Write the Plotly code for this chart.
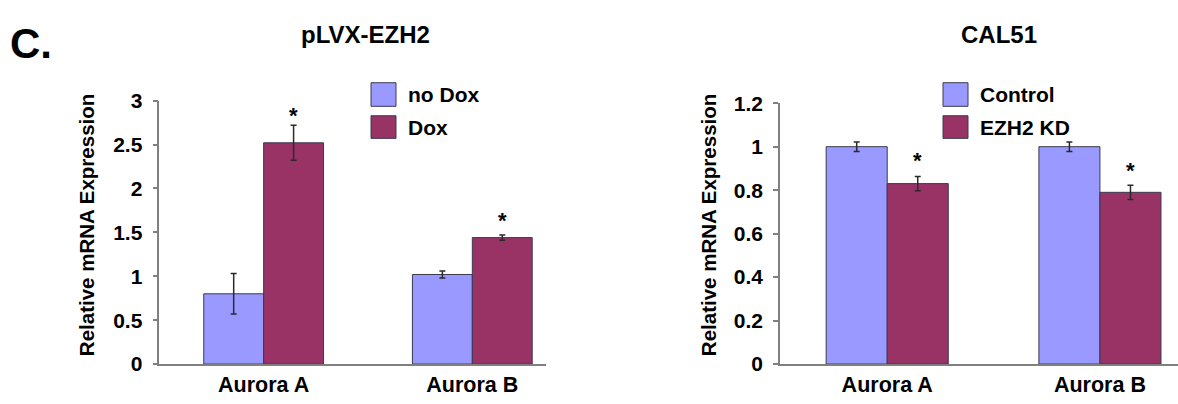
import plotly.graph_objects as go

# ---------------- data ----------------
categories = ["Aurora A", "Aurora B"]

left_title = "pLVX-EZH2"
left_names = ["no Dox", "Dox"]
left_nodox = [0.80, 1.02]
left_nodox_err = [0.23, 0.04]
left_dox = [2.52, 1.44]
left_dox_err = [0.20, 0.03]
left_star_y = [2.83, 1.63]
left_yticks = [0, 0.5, 1, 1.5, 2, 2.5, 3]

right_title = "CAL51"
right_names = ["Control", "EZH2 KD"]
right_ctrl = [1.00, 1.00]
right_ctrl_err = [0.022, 0.022]
right_kd = [0.83, 0.79]
right_kd_err = [0.033, 0.033]
right_star_y = [0.935, 0.89]
right_yticks = [0, 0.2, 0.4, 0.6, 0.8, 1, 1.2]

y_title = "Relative mRNA Expression"
panel_label = "C."

# ---------------- style ----------------
BLUE = "#9999FF"
MAROON = "#993366"
OUTLINE = "#3a3a50"
AXIS = "#808080"
FONT = "Liberation Sans, Arial, Helvetica, sans-serif"
W, H = 1178, 404
FS = 21

def px(x):
    return x / W

def py(y):
    return (H - y) / H

fig = go.Figure()

def add_bars(xa, ya, vals, errs, color, name):
    fig.add_trace(go.Bar(
        x=categories, y=vals, name=name, xaxis=xa, yaxis=ya,
        marker=dict(color=color, line=dict(color=OUTLINE, width=1)),
        error_y=dict(type="data", array=errs, visible=True,
                     color="#2a2a2a", thickness=1.5, width=3),
        showlegend=False,
    ))

add_bars("x", "y", left_nodox, left_nodox_err, BLUE, left_names[0])
add_bars("x", "y", left_dox, left_dox_err, MAROON, left_names[1])
add_bars("x2", "y2", right_ctrl, right_ctrl_err, BLUE, right_names[0])
add_bars("x2", "y2", right_kd, right_kd_err, MAROON, right_names[1])

tickfont = dict(family=FONT, size=FS, color="black", weight="bold")

xcommon = dict(type="category", showline=True, linecolor=AXIS, linewidth=1.5,
               ticks="", showgrid=False, zeroline=False,
               tickfont=dict(tickfont, size=21.5), fixedrange=True)
ycommon = dict(showline=True, linecolor=AXIS, linewidth=1.5, ticks="outside",
               ticklen=5, tickcolor=AXIS, tickwidth=1.5, showgrid=False,
               zeroline=False, tickfont=tickfont, fixedrange=True,
               ticklabelstandoff=6)

fig.update_layout(
    width=W, height=H,
    margin=dict(l=0, r=0, t=0, b=0),
    paper_bgcolor="white", plot_bgcolor="white",
    font=dict(family=FONT, color="black", weight="bold"),
    barmode="group", bargap=0.426, bargroupgap=0,
    showlegend=False,
    xaxis=dict(xcommon, domain=[px(159.3), px(546.4)], range=[-0.5, 1.355], anchor="y"),
    yaxis=dict(ycommon, domain=[py(373.3), py(94)], range=[0, 3],
               tickvals=left_yticks, ticktext=[str(v) for v in left_yticks], anchor="x"),
    xaxis2=dict(xcommon, domain=[px(780), 1.0], range=[-0.504, 1.367], anchor="y2"),
    yaxis2=dict(ycommon, domain=[py(373.3), py(96.7)], range=[0, 1.2],
                tickvals=right_yticks, ticktext=[str(v) for v in right_yticks], anchor="x2"),
)

annotations = []
shapes = []

# asterisks above the second bar of each group
half = (1 - 0.426) / 4
for i, yv in enumerate(left_star_y):
    annotations.append(dict(x=i + half, y=yv, xref="x", yref="y", text="*",
                            showarrow=False, font=dict(family=FONT, size=22, weight="bold")))
for i, yv in enumerate(right_star_y):
    annotations.append(dict(x=i + half, y=yv, xref="x2", yref="y2", text="*",
                            showarrow=False, font=dict(family=FONT, size=22, weight="bold")))

# titles
annotations.append(dict(x=px(365), y=py(23.5), xref="paper", yref="paper", text=left_title,
                        showarrow=False, xanchor="center", yanchor="middle",
                        font=dict(family=FONT, size=24, weight="bold")))
annotations.append(dict(x=px(999), y=py(23.5), xref="paper", yref="paper", text=right_title,
                        showarrow=False, xanchor="center", yanchor="middle",
                        font=dict(family=FONT, size=24, weight="bold")))
annotations.append(dict(x=px(8), y=py(33), xref="paper", yref="paper", text=panel_label,
                        showarrow=False, xanchor="left", yanchor="middle",
                        font=dict(family=FONT, size=42, weight="bold")))

# y-axis titles
for xc in (86, 708):
    annotations.append(dict(x=px(xc), y=py(226), xref="paper", yref="paper", text=y_title,
                            showarrow=False, textangle=-90, xanchor="center", yanchor="middle",
                            font=dict(family=FONT, size=20.5, weight="bold")))

# legends (large swatches like the original)
def legend(x_box, x_text, names):
    for (y0, y1), color, name in zip([(75, 100), (110, 134)], [BLUE, MAROON], names):
        shapes.append(dict(type="rect", xref="paper", yref="paper",
                           x0=px(x_box), x1=px(x_box + 25), y0=py(y1), y1=py(y0),
                           fillcolor=color, line=dict(color=OUTLINE, width=1)))
        annotations.append(dict(x=px(x_text), y=py((y0 + y1) / 2), xref="paper", yref="paper",
                                text=name, showarrow=False, xanchor="left", yanchor="middle",
                                font=dict(family=FONT, size=FS, weight="bold")))

legend(371, 406, left_names)
legend(943, 978, right_names)

fig.update_layout(annotations=annotations, shapes=shapes)

# remove the default page margin so the figure sits at the window origin
fig.write_html("out.html", config={"displayModeBar": False},
               post_script="document.body.style.margin='0';")
